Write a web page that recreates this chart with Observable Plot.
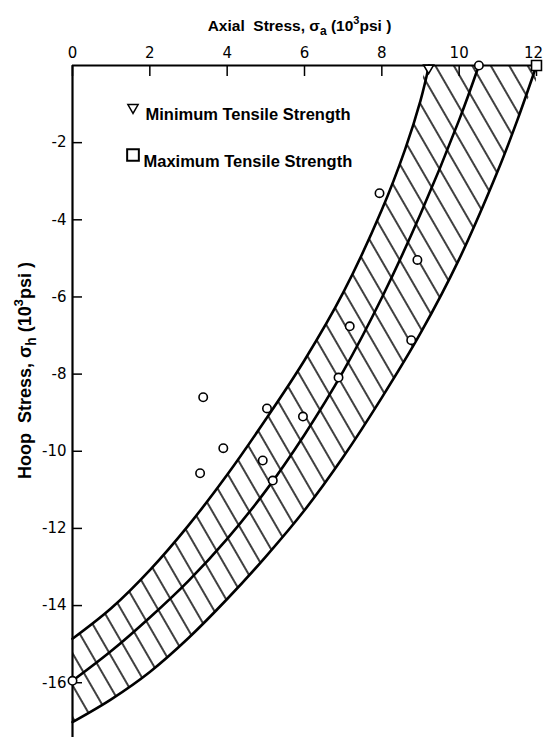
<!DOCTYPE html>
<html><head><meta charset="utf-8">
<script src="https://cdn.jsdelivr.net/npm/d3@7"></script>
<script src="https://cdn.jsdelivr.net/npm/@observablehq/plot@0.6"></script>
<style>body{margin:0;background:#fff} svg{display:block}</style>
</head><body><div id="chart"></div>
<script>
// Tick values
const xTicks = [0, 2, 4, 6, 8, 10, 12];
const yTicks = [-2, -4, -6, -8, -10, -12, -14, -16];

// Minimum tensile strength envelope (upper-left boundary)
const minX = [0, 1, 2, 3, 4, 5, 6, 7, 8, 8.6, 9, 9.22];
const minY = [-14.86, -14.07, -13.08, -11.92, -10.61, -9.17, -7.64, -5.89, -3.74, -2.18, -0.91, 0];

// Middle envelope
const midX = [0, 1, 2, 3, 4, 5, 6, 7, 8, 9, 10, 10.51];
const midY = [-15.95, -15.18, -14.31, -13.36, -12.27, -11.02, -9.57, -7.93, -6.02, -3.85, -1.41, 0];

// Maximum tensile strength envelope (lower-right boundary)
const maxX = [0, 1, 2, 3, 4, 5, 6, 7, 8, 9, 10, 11, 11.5, 12];
const maxY = [-17.02, -16.43, -15.72, -14.84, -13.83, -12.73, -11.53, -10.15, -8.61, -6.94, -5.02, -2.73, -1.43, 0];

// Test data (open circles)
const testX = [3.30, 3.38, 3.90, 4.92, 5.03, 5.18, 5.96, 6.88, 7.17, 7.94, 8.92, 8.76, 10.51, 0];
const testY = [-10.57, -8.60, -9.92, -10.24, -8.89, -10.76, -9.10, -8.09, -6.76, -3.31, -5.04, -7.12, 0, -15.95];

// Strength markers on the axial axis
const minStrength = [9.21];
const maxStrength = [12.0];

const legendLabels = ["Minimum Tensile Strength", "Maximum Tensile Strength"];
const xLabel = "Axial Stress, σa (10³psi )";
const yLabel = "Hoop Stress, σh (10³psi )";

const pts = (X, Y) => X.map((x, i) => ({x, y: Y[i]}));
const minPts = pts(minX, minY);
const midPts = pts(midX, midY);
const maxPts = pts(maxX, maxY);
const testPts = pts(testX, testY);
const band = [...minPts, ...maxPts.slice().reverse()];

const font = "'Liberation Sans', Arial, sans-serif";
const tickFont = "'DejaVu Sans', sans-serif";

const svg = Plot.plot({
  width: 544, height: 738,
  marginLeft: 72, marginRight: 8, marginTop: 65, marginBottom: 1,
  x: {domain: [0, 12]},
  y: {domain: [-17.42, 0]},
  style: {fontFamily: font, background: "white", color: "black", overflow: "visible"},
  marks: [
    Plot.line(band, {x: "x", y: "y", fill: "url(#hatch)", stroke: "none", curve: "catmull-rom", clip: true}),
    Plot.line(minPts, {x: "x", y: "y", stroke: "black", strokeWidth: 2.6, curve: "catmull-rom"}),
    Plot.line(midPts, {x: "x", y: "y", stroke: "black", strokeWidth: 2.6, curve: "catmull-rom"}),
    Plot.line(maxPts, {x: "x", y: "y", stroke: "black", strokeWidth: 2.6, curve: "catmull-rom"}),
    Plot.ruleX([0], {stroke: "black", strokeWidth: 2.2}),
    Plot.ruleY([0], {stroke: "black", strokeWidth: 2.2}),
    Plot.axisX({anchor: "top", ticks: xTicks.slice(0, -1), tickSize: 0, tickPadding: 8, fontSize: 15, fontFamily: tickFont, label: null, tickFormat: d => String(d)}),
    Plot.axisX({anchor: "top", ticks: xTicks.slice(-1), tickSize: 0, tickPadding: 8, dx: -3, fontSize: 15, fontFamily: tickFont, label: null, tickFormat: d => String(d)}),
    Plot.axisX({anchor: "top", ticks: xTicks, tickSize: -10, fill: "none", label: null, strokeWidth: 1.5}),
    Plot.axisY({anchor: "left", ticks: yTicks, tickSize: 0, tickPadding: 6, fontSize: 15, fontFamily: tickFont, label: null, tickFormat: d => String(d)}),
    Plot.axisY({anchor: "left", ticks: yTicks, tickSize: -10, fill: "none", label: null, strokeWidth: 1.5}),
    Plot.dot(testPts, {x: "x", y: "y", r: 4.2, stroke: "black", strokeWidth: 1.6, fill: "white"}),
    Plot.dot(minStrength, {x: d => d, y: () => 0, symbol: "triangle", rotate: 180, r: 3.7, dy: 2.5, stroke: "black", strokeWidth: 1.6, fill: "white"}),
    Plot.dot(maxStrength, {x: d => d, y: () => 0, symbol: "square", r: 5.6, stroke: "black", strokeWidth: 1.6, fill: "white"}),
    // legend
    Plot.dot([legendLabels[0]], {frameAnchor: "top-left", dx: 60.5, dy: 42, symbol: "triangle", rotate: 180, r: 3.8, stroke: "black", strokeWidth: 1.5, fill: "white"}),
    Plot.dot([legendLabels[1]], {frameAnchor: "top-left", dx: 60.5, dy: 89.5, symbol: "square", r: 6.6, stroke: "black", strokeWidth: 2, fill: "white"}),
    Plot.text([legendLabels[0]], {text: d => d, frameAnchor: "top-left", textAnchor: "start", dx: 73, dy: 43, fontSize: 16.5, fontWeight: "bold"}),
    Plot.text([legendLabels[1]], {text: d => d, frameAnchor: "top-left", textAnchor: "start", dx: 71, dy: 90, fontSize: 16.5, fontWeight: "bold"}),
    // axis titles
    Plot.text([xLabel], {text: d => d, frameAnchor: "top", dx: -5, dy: -46, fontSize: 15.5, fontWeight: "bold", className: "xlab"}),
    Plot.text([yLabel], {text: d => d, frameAnchor: "left", textAnchor: "middle", rotate: -90, dx: -47, dy: -31, fontSize: 18, fontWeight: "bold", className: "ylab"})
  ]
});

// hatch pattern
const ns = "http://www.w3.org/2000/svg";
const defs = document.createElementNS(ns, "defs");
defs.innerHTML = '<pattern id="hatch" patternUnits="userSpaceOnUse" width="16" height="16" patternTransform="rotate(-30)"><line x1="8" y1="-1" x2="8" y2="17" stroke="black" stroke-width="1.5"/></pattern>';
svg.insertBefore(defs, svg.firstChild);

// sub/superscripts in axis titles
function rich(t, sub, big) {
  const s = big ? 1.16 : 1;
  t.innerHTML = (t.textContent.startsWith("Axial") ? "Axial&#160;&#160;Stress," : "Hoop&#160;&#160;Stress,") +
    ' σ<tspan dy="' + (4 * s) + '" font-size="' + (12 * s) + '">' + sub + '</tspan><tspan dy="' + (-4 * s) + '"> (10</tspan><tspan dy="' + (-7 * s) + '" font-size="' + (11 * s) + '">3</tspan><tspan dy="' + (7 * s) + '">psi )</tspan>';
}
svg.querySelectorAll("g.xlab text").forEach(t => rich(t, "a", false));
svg.querySelectorAll("g.ylab text").forEach(t => rich(t, "h", true));

document.getElementById("chart").appendChild(svg);
</script>
</body></html>
